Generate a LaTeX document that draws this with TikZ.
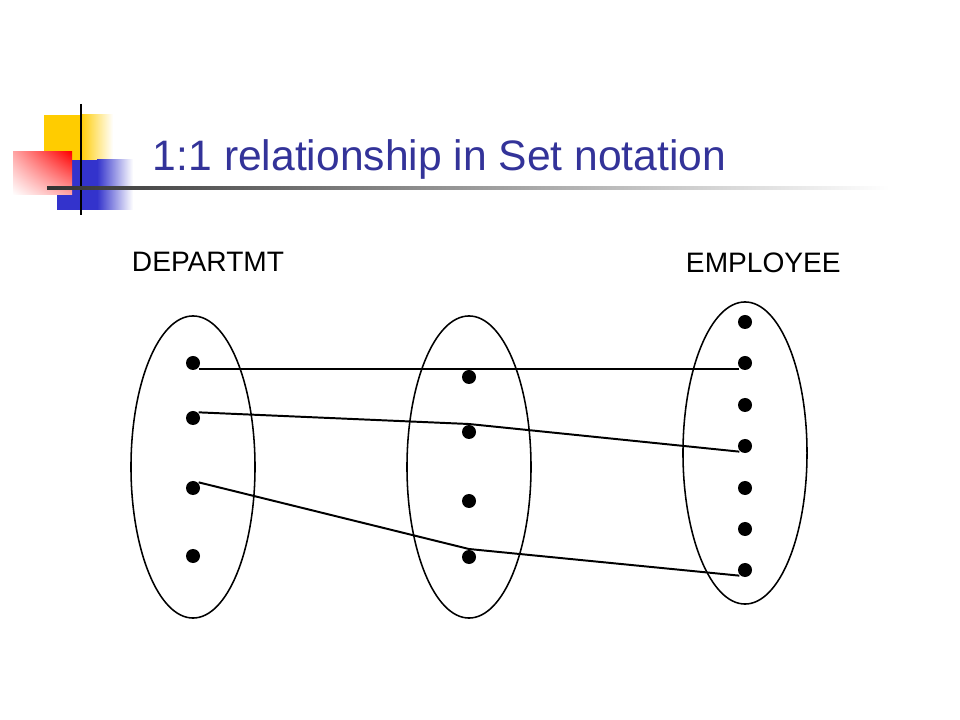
\documentclass[tikz,border=0pt]{standalone}
\usepackage{fontspec}
\setmainfont{Liberation Sans}
\usetikzlibrary{shapes.geometric,shadings}

\definecolor{titleblue}{RGB}{51,51,153}
\definecolor{decoyellow}{RGB}{255,204,0}
\definecolor{decoblue}{RGB}{51,51,204}

\tikzset{
  member/.style={
    fill=black,
    inner sep=0pt,
    circle,
    minimum size=3.5mm
  },
  set/.style={
    draw,
    ellipse,
    inner sep=0pt,
    line width=1.1pt,
    minimum width=31mm,
    minimum height=75.5mm
  },
  setname/.style={
    anchor=base west,
    inner sep=0pt,
    font=\fontsize{20}{24}\selectfont
  }
}

\begin{document}
\begin{tikzpicture}[x=0.025cm, y=-0.025cm, line width=1.4pt]
    \useasboundingbox[fill=white] (0,0) rectangle (960,720);
    % corner decoration
    \fill[decoyellow] (44,115) rectangle (80,160);
    \shade[left color=decoyellow, right color=white, line width=0pt] (80,115) rectangle (113,160);
    \fill[decoblue] (57,160) rectangle (97,210);
    \shade[left color=decoblue, right color=white, line width=0pt] (97,160) rectangle (133,210);
    \shade[upper right=red, lower left=white, upper left=red!35, lower right=red!35, line width=0pt]
      (13,152) rectangle (72,195);
    \draw[line width=2.1pt] (81,104) -- (81,215);
    \shade[left color=black!80, right color=white, line width=0pt] (47,186.5) rectangle (890,189.5);
    \node[anchor=base west, inner sep=0pt, text=titleblue, font=\fontsize{30.3}{36}\selectfont]
      at (152,171) (title) {1:1 relationship in Set notation};
    % sets
    \node[setname] at (131,272) (deptname) {DEPARTMT};
    \node[setname] at (685,273) (empname) {EMPLOYEE};
    \node[set] at (193,467) (dept) {};
    \node[set] at (469,467) (mid) {};
    \node[set] at (745,453) (emp) {};
    \node[member] at (193,363) (d1) {};
    \node[member] at (193,418) (d2) {};
    \node[member] at (193,488) (d3) {};
    \node[member] at (193,556) (d4) {};
    \node[member] at (469,377) (m1) {};
    \node[member] at (469,432) (m2) {};
    \node[member] at (469,501) (m3) {};
    \node[member] at (469,557) (m4) {};
    \node[member] at (745,322) (e1) {};
    \node[member] at (745,363) (e2) {};
    \node[member] at (745,405) (e3) {};
    \node[member] at (745,446) (e4) {};
    \node[member] at (745,488) (e5) {};
    \node[member] at (745,529) (e6) {};
    \node[member] at (745,570) (e7) {};
    \path
      (d1.south east) edge (e2.south west)
      (d2.north east) edge (m2.north) (m2.north) edge (e4.south west)
      (d3.north east) edge (m4.north) (m4.north) edge (e7.south west);
  \end{tikzpicture}
\end{document}
